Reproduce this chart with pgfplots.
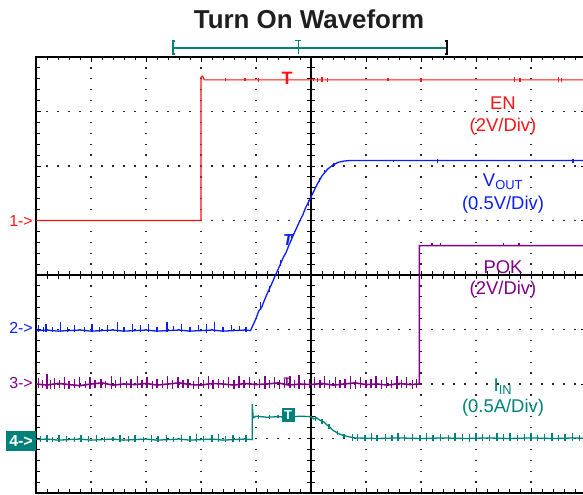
\documentclass[border=0pt]{standalone}
\usepackage{pgfplots}
\pgfplotsset{compat=1.18}
\usepackage{fontspec}
\setmainfont{Liberation Sans}

\definecolor{scred}{RGB}{250,20,20}
\definecolor{scblue}{RGB}{10,30,240}
\definecolor{scpurple}{RGB}{125,0,135}
\definecolor{scteal}{RGB}{0,128,122}

\pgfplotsset{hairs/.style={draw=none, mark=none, error bars/.cd, y dir=both, y explicit, error mark=none,
    error bar style={line width=1.4bp, solid, draw=#1}}}

\begin{document}
\begin{tikzpicture}
\useasboundingbox (0,0) rectangle (583bp,495bp);
\begin{axis}[
    at={(36bp,2bp)}, anchor=south west,
    scale only axis, width=550bp, height=436bp,
    xmin=-5, xmax=5, ymin=-4, ymax=4,
    xtick={-5,...,5}, ytick={-4,...,4},
    xticklabels={}, yticklabels={},
    minor x tick num=4, minor y tick num=4,
    tick align=inside,
    major tick length=5bp, minor tick length=3.5bp,
    tick style={black, line width=0.8bp},
    axis line style={black, line width=1.2bp},
    grid=major,
    x grid style={black!85, line width=1.3bp, dash pattern=on 1.3bp off 9.6bp, dash phase=0.65bp},
    y grid style={black!85, line width=1.3bp, dash pattern=on 1.3bp off 9.7bp, dash phase=0.65bp},
    every axis plot/.append style={no markers, sharp plot},
]
% centre crosshair
\draw[black, line width=1.6bp] (axis cs:0,-4) -- (axis cs:0,4);
\draw[black, line width=1.6bp] (axis cs:-5,0) -- (axis cs:5,0);
\pgfplotsinvokeforeach{-25,...,25}{\draw[black, line width=0.8bp] (axis cs:#1*0.2,-0.065) -- (axis cs:#1*0.2,0.065);}
\pgfplotsinvokeforeach{-20,...,20}{\draw[black, line width=0.8bp] (axis cs:-0.065,#1*0.2) -- (axis cs:0.065,#1*0.2);}

% CH1 EN
\addplot[scred, line width=1.2bp] coordinates {
 (-5,1.0) (-2.0,1.0) (-2.0,3.63) (-1.97,3.65) (-1.94,3.58) (5,3.58)};
\addplot[hairs=scred] coordinates {
 (-1.55,3.59) +- (0,0.03) (-1.2,3.59) +- (0,0.03) (-0.95,3.58) +- (0,0.04)
 (0.05,3.59) +- (0,0.03) (0.12,3.58) +- (0,0.03) (0.2,3.59) +- (0,0.04)
 (0.3,3.58) +- (0,0.03) (1.4,3.59) +- (0,0.03) (2.0,3.58) +- (0,0.03)
 (3.7,3.59) +- (0,0.04) (3.8,3.58) +- (0,0.03) (4.5,3.59) +- (0,0.04)
 (4.55,3.58) +- (0,0.03)};

% CH2 VOUT
\addplot[scblue, line width=1.3bp] coordinates {
 (-5.0,-1.02) (-4.8,-1.01) (-4.6,-1.03) (-4.4,-1.02) (-4.2,-1.01) (-4.0,-1.03)
 (-3.8,-1.02) (-3.6,-1.01) (-3.4,-1.03) (-3.2,-1.02) (-3.0,-1.01) (-2.8,-1.03)
 (-2.6,-1.02) (-2.4,-1.01) (-2.2,-1.03) (-2.0,-1.02) (-1.8,-1.01) (-1.6,-1.03)
 (-1.4,-1.02) (-1.2,-1.01) (-1.1,-1.02)
 (-1.0,-0.80) (-0.95,-0.66) (-0.9,-0.60) (-0.85,-0.47) (-0.8,-0.35) (-0.7,-0.13)
 (-0.65,-0.01) (-0.6,0.10) (-0.5,0.33) (-0.45,0.42) (-0.4,0.55) (-0.3,0.78)
 (-0.2,1.00) (-0.15,1.10) (-0.1,1.23) (0.0,1.43) (0.1,1.64) (0.2,1.82)
 (0.3,1.94) (0.4,2.02) (0.5,2.07) (0.6,2.09) (0.7,2.10) (5,2.10)};
\addplot[hairs=scblue] coordinates {
 (-4.95,-0.98) +- (0,0.06) (-4.86,-1.00) +- (0,0.05) (-4.82,-0.97) +- (0,0.08)
 (-4.7,-1.00) +- (0,0.04) (-4.55,-0.96) +- (0,0.09) (-4.43,-1.00) +- (0,0.05)
 (-4.3,-0.98) +- (0,0.06) (-4.12,-1.00) +- (0,0.04) (-3.98,-0.97) +- (0,0.08)
 (-3.85,-1.00) +- (0,0.05) (-3.7,-0.98) +- (0,0.06) (-3.52,-0.96) +- (0,0.09)
 (-3.4,-1.00) +- (0,0.04) (-3.25,-0.97) +- (0,0.08) (-3.1,-0.98) +- (0,0.06)
 (-2.95,-0.97) +- (0,0.08) (-2.8,-1.00) +- (0,0.05) (-2.62,-0.96) +- (0,0.09)
 (-2.5,-0.98) +- (0,0.05) (-2.35,-0.97) +- (0,0.08) (-2.2,-1.00) +- (0,0.04)
 (-2.05,-0.97) +- (0,0.06) (-1.9,-0.98) +- (0,0.08) (-1.75,-0.96) +- (0,0.09)
 (-1.6,-1.00) +- (0,0.05) (-1.45,-0.97) +- (0,0.06) (-1.3,-0.98) +- (0,0.05)
 (-1.18,-1.00) +- (0,0.04)
 (-0.92,-0.56) +- (0,0.06) (-0.76,-0.26) +- (0,0.05) (-0.55,0.22) +- (0,0.05)
 (-0.35,0.67) +- (0,0.05) (-0.05,1.32) +- (0,0.05) (0.15,1.74) +- (0,0.04)
 (0.25,1.89) +- (0,0.03) (0.42,2.03) +- (0,0.03)
 (1.5,2.09) +- (0,0.02) (2.3,2.09) +- (0,0.03) (4.76,2.09) +- (0,0.03)};

% CH3 POK
\addplot[scpurple, line width=1.6bp] coordinates {
 (-5.0,-2.00) (-4.8,-2.02) (-4.6,-1.99) (-4.4,-2.01) (-4.2,-2.03) (-4.0,-2.00)
 (-3.8,-1.98) (-3.6,-2.02) (-3.4,-2.00) (-3.2,-2.01) (-3.0,-1.99) (-2.8,-2.02)
 (-2.6,-2.00) (-2.4,-1.98) (-2.2,-2.01) (-2.0,-2.02) (-1.8,-1.99) (-1.6,-2.00)
 (-1.4,-2.02) (-1.2,-1.99) (-1.0,-2.01) (-0.8,-2.00) (-0.6,-1.98) (-0.4,-2.02)
 (-0.2,-2.00) (0.0,-2.01) (0.2,-1.99) (0.4,-2.02) (0.6,-2.00) (0.8,-1.98)
 (1.0,-2.01) (1.2,-2.00) (1.4,-2.02) (1.6,-1.99) (1.8,-2.01) (1.97,-2.00)
 (1.97,0.54) (5,0.54)};
\addplot[hairs=scpurple] coordinates {
 (-4.95,-1.98) +- (0,0.09) (-4.88,-2.00) +- (0,0.07) (-4.8,-1.95) +- (0,0.14)
 (-4.74,-2.01) +- (0,0.08) (-4.66,-1.99) +- (0,0.10) (-4.57,-2.00) +- (0,0.07)
 (-4.48,-1.98) +- (0,0.11) (-4.4,-2.02) +- (0,0.08) (-4.3,-1.99) +- (0,0.09)
 (-4.21,-1.97) +- (0,0.10) (-4.1,-2.01) +- (0,0.07) (-4.02,-1.98) +- (0,0.11)
 (-3.93,-2.00) +- (0,0.08) (-3.82,-1.99) +- (0,0.09) (-3.74,-2.01) +- (0,0.07)
 (-3.63,-1.97) +- (0,0.12) (-3.55,-2.00) +- (0,0.08) (-3.46,-1.98) +- (0,0.10)
 (-3.35,-2.01) +- (0,0.07) (-3.27,-1.99) +- (0,0.09) (-3.16,-1.97) +- (0,0.11)
 (-3.07,-2.00) +- (0,0.07) (-2.98,-1.98) +- (0,0.10) (-2.88,-2.02) +- (0,0.08)
 (-2.8,-1.99) +- (0,0.09) (-2.7,-2.00) +- (0,0.07) (-2.61,-1.97) +- (0,0.12)
 (-2.52,-2.01) +- (0,0.08) (-2.42,-1.98) +- (0,0.10) (-2.33,-2.00) +- (0,0.07)
 (-2.24,-1.99) +- (0,0.09) (-2.14,-2.02) +- (0,0.08) (-2.05,-1.98) +- (0,0.11)
 (-1.96,-2.00) +- (0,0.07) (-1.86,-1.97) +- (0,0.12) (-1.78,-2.01) +- (0,0.08)
 (-1.68,-1.99) +- (0,0.09) (-1.59,-2.00) +- (0,0.07) (-1.5,-1.98) +- (0,0.10)
 (-1.4,-2.01) +- (0,0.08) (-1.31,-1.97) +- (0,0.11) (-1.22,-2.00) +- (0,0.07)
 (-1.12,-1.98) +- (0,0.10) (-1.03,-2.02) +- (0,0.08) (-0.94,-1.99) +- (0,0.09)
 (-0.84,-1.97) +- (0,0.12) (-0.76,-2.00) +- (0,0.07) (-0.66,-1.98) +- (0,0.10)
 (-0.57,-2.01) +- (0,0.08) (-0.48,-1.99) +- (0,0.09) (-0.38,-1.97) +- (0,0.11)
 (-0.3,-2.00) +- (0,0.07) (-0.22,-1.96) +- (0,0.13) (-0.12,-2.01) +- (0,0.08)
 (-0.03,-1.99) +- (0,0.09) (0.06,-1.98) +- (0,0.10) (0.16,-2.00) +- (0,0.07)
 (0.25,-1.97) +- (0,0.11) (0.34,-2.01) +- (0,0.08) (0.44,-1.98) +- (0,0.10)
 (0.53,-2.00) +- (0,0.07) (0.62,-1.99) +- (0,0.09) (0.72,-1.97) +- (0,0.12)
 (0.81,-2.01) +- (0,0.08) (0.9,-1.98) +- (0,0.10) (1.0,-2.00) +- (0,0.07)
 (1.09,-1.99) +- (0,0.09) (1.18,-1.97) +- (0,0.11) (1.28,-2.01) +- (0,0.08)
 (1.37,-1.98) +- (0,0.10) (1.46,-2.00) +- (0,0.07) (1.56,-1.97) +- (0,0.12)
 (1.65,-2.00) +- (0,0.08) (1.74,-1.98) +- (0,0.10) (1.84,-2.01) +- (0,0.08)
 (1.92,-1.99) +- (0,0.09)
 (2.2,0.56) +- (0,0.03) (2.35,0.56) +- (0,0.03) (3.5,0.56) +- (0,0.03)
 (3.78,0.56) +- (0,0.03)};

% CH4 IIN
\addplot[scteal, line width=1.3bp] coordinates {
 (-5.0,-3.02) (-4.8,-3.01) (-4.6,-3.03) (-4.4,-3.02) (-4.2,-3.01) (-4.0,-3.03)
 (-3.8,-3.02) (-3.6,-3.01) (-3.4,-3.03) (-3.2,-3.02) (-3.0,-3.01) (-2.8,-3.03)
 (-2.6,-3.02) (-2.4,-3.01) (-2.2,-3.03) (-2.0,-3.02) (-1.8,-3.01) (-1.6,-3.03)
 (-1.4,-3.02) (-1.2,-3.01) (-1.07,-3.02)
 (-1.07,-2.37) (-1.05,-2.62) (-1.0,-2.59) (-0.8,-2.61) (-0.6,-2.60) (-0.4,-2.61)
 (-0.2,-2.59) (0.0,-2.60) (0.05,-2.64) (0.1,-2.62) (0.17,-2.67) (0.24,-2.70)
 (0.3,-2.76) (0.35,-2.80) (0.4,-2.85) (0.45,-2.88) (0.5,-2.91) (0.55,-2.93)
 (0.65,-2.96) (0.8,-2.99) (1.2,-3.00) (1.6,-2.99) (2.0,-3.00) (2.4,-2.99)
 (2.8,-3.00) (3.2,-2.99) (3.6,-3.00) (4.0,-2.99) (4.4,-3.00) (4.8,-2.99) (5.0,-3.00)};
\addplot[hairs=scteal] coordinates {
 (-4.92,-3.01) +- (0,0.06) (-4.8,-3.00) +- (0,0.07) (-4.7,-3.02) +- (0,0.05)
 (-4.58,-3.00) +- (0,0.06) (-4.45,-3.01) +- (0,0.05) (-4.3,-3.02) +- (0,0.04)
 (-4.18,-3.00) +- (0,0.06) (-4.05,-3.01) +- (0,0.05) (-3.9,-3.00) +- (0,0.06)
 (-3.75,-3.02) +- (0,0.05) (-3.6,-3.01) +- (0,0.04) (-3.47,-3.00) +- (0,0.06)
 (-3.32,-3.01) +- (0,0.05) (-3.2,-3.00) +- (0,0.06) (-3.05,-3.02) +- (0,0.05)
 (-2.9,-3.00) +- (0,0.07) (-2.78,-3.01) +- (0,0.05) (-2.63,-3.00) +- (0,0.06)
 (-2.5,-3.02) +- (0,0.05) (-2.35,-3.00) +- (0,0.07) (-2.2,-3.01) +- (0,0.05)
 (-2.08,-2.99) +- (0,0.07) (-1.95,-3.01) +- (0,0.05) (-1.8,-3.00) +- (0,0.06)
 (-1.68,-2.99) +- (0,0.07) (-1.55,-3.01) +- (0,0.05) (-1.42,-3.00) +- (0,0.06)
 (-1.3,-3.02) +- (0,0.05) (-1.18,-3.00) +- (0,0.06)
 (-0.95,-2.60) +- (0,0.04) (-0.75,-2.61) +- (0,0.04) (-0.6,-2.60) +- (0,0.03)
 (0.08,-2.63) +- (0,0.04) (0.2,-2.69) +- (0,0.05) (0.33,-2.78) +- (0,0.05)
 (0.48,-2.90) +- (0,0.04) (0.6,-2.95) +- (0,0.04)
 (0.75,-2.98) +- (0,0.06) (0.85,-2.98) +- (0,0.07) (0.98,-2.99) +- (0,0.05)
 (1.1,-2.97) +- (0,0.08) (1.2,-2.99) +- (0,0.06) (1.35,-2.98) +- (0,0.07)
 (1.47,-2.99) +- (0,0.05) (1.58,-2.97) +- (0,0.08) (1.7,-2.99) +- (0,0.06)
 (1.85,-2.98) +- (0,0.07) (1.98,-2.99) +- (0,0.05) (2.1,-2.97) +- (0,0.08)
 (2.22,-2.99) +- (0,0.06) (2.35,-2.98) +- (0,0.07) (2.5,-2.99) +- (0,0.05)
 (2.62,-2.97) +- (0,0.08) (2.75,-2.98) +- (0,0.06) (2.88,-2.99) +- (0,0.07)
 (3.0,-2.97) +- (0,0.08) (3.12,-2.98) +- (0,0.06) (3.25,-2.99) +- (0,0.05)
 (3.38,-2.97) +- (0,0.08) (3.5,-2.98) +- (0,0.07) (3.62,-2.97) +- (0,0.08)
 (3.75,-2.99) +- (0,0.06) (3.88,-2.98) +- (0,0.07) (4.0,-2.97) +- (0,0.08)
 (4.12,-2.99) +- (0,0.06) (4.25,-2.98) +- (0,0.07) (4.38,-2.97) +- (0,0.08)
 (4.5,-2.99) +- (0,0.06) (4.62,-2.98) +- (0,0.07) (4.75,-2.97) +- (0,0.08)
 (4.88,-2.99) +- (0,0.06)};
\end{axis}

% title
\node[font=\fontsize{26}{28}\selectfont\bfseries, text=black!88] at (309bp,476bp) {Turn On Waveform};

% time bracket
\draw[scteal, line width=1.2bp] (173bp,447bp) -- (447bp,447bp);
\draw[scteal, line width=1.2bp] (175bp,454bp) -- (173bp,454bp) -- (173bp,441bp) -- (175bp,441bp);
\draw[black, line width=1.4bp] (445bp,454bp) -- (447bp,454bp) -- (447bp,441bp) -- (445bp,441bp);
\draw[scteal, line width=1bp] (295bp,454bp) -- (301bp,454bp) (298bp,454bp) -- (298bp,441bp);

% channel markers
\node[anchor=east, text=scred, font=\fontsize{16}{16}\selectfont, inner sep=0] at (33bp,274bp) {1->};
\node[anchor=east, text=scblue, font=\fontsize{16}{16}\selectfont, inner sep=0] at (33bp,167bp) {2->};
\node[anchor=east, text=scpurple, font=\fontsize{16}{16}\selectfont, inner sep=0] at (33bp,112bp) {3->};
\node[fill=scteal, text=white, font=\fontsize{16}{16}\selectfont\bfseries, minimum width=30bp, minimum height=20bp, inner sep=0] at (21bp,54bp) {4->};

% trigger marks
\node[text=scred, font=\fontsize{18}{18}\selectfont\bfseries, inner sep=0] at (287bp,417bp) {T};
\node[text=scblue, font=\fontsize{16}{16}\selectfont\bfseries\itshape, inner sep=0] at (288bp,255bp) {T};
\node[text=scpurple, font=\fontsize{11}{11}\selectfont\bfseries, inner sep=0] at (287bp,113bp) {T};
\node[fill=scteal, text=white, font=\fontsize{13}{13}\selectfont\bfseries, minimum width=13bp, minimum height=14bp, inner sep=0] at (288bp,80bp) {T};

% channel labels
\node[text=scred, font=\fontsize{18.5}{20}\selectfont] at (503bp,392bp) {EN};
\node[text=scred, font=\fontsize{18.5}{20}\selectfont] at (503bp,368bp) {(2V/Div)};
\node[text=scblue, font=\fontsize{18.5}{20}\selectfont] at (503bp,313bp) {V\textsubscript{OUT}};
\node[text=scblue, font=\fontsize{18.5}{20}\selectfont] at (503bp,290bp) {(0.5V/Div)};
\node[text=scpurple, font=\fontsize{18.5}{20}\selectfont] at (503bp,228bp) {POK};
\node[text=scpurple, font=\fontsize{18.5}{20}\selectfont] at (503bp,205bp) {(2V/Div)};
\node[text=scteal, font=\fontsize{18.5}{20}\selectfont] at (503bp,108bp) {I\textsubscript{IN}};
\node[text=scteal, font=\fontsize{18.5}{20}\selectfont] at (503bp,87bp) {(0.5A/Div)};
\end{tikzpicture}
\end{document}
